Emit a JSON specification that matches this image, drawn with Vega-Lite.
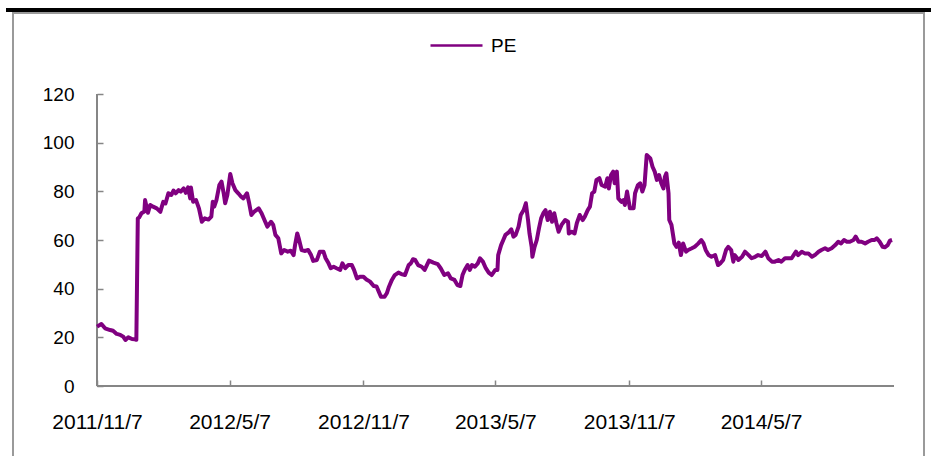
{
  "$schema": "https://vega.github.io/schema/vega-lite/v6.json",
  "width": 911,
  "height": 457,
  "autosize": {"type": "none"},
  "padding": {"left": 13, "top": 13, "right": 7, "bottom": 0},
  "background": "white",
  "config": {
    "view": {"stroke": "#9a9a9a", "strokeWidth": 2},
    "font": "Liberation Sans"
  },
  "data": {
    "values": [
      {"date": "2011-11-07", "pe": 24.4}, {"date": "2011-11-13", "pe": 25.5}, {"date": "2011-11-18", "pe": 23.7}, {"date": "2011-11-25", "pe": 23.0},
      {"date": "2011-11-29", "pe": 22.7}, {"date": "2011-12-04", "pe": 21.4}, {"date": "2011-12-09", "pe": 21.0}, {"date": "2011-12-13", "pe": 20.3},
      {"date": "2011-12-16", "pe": 18.9}, {"date": "2011-12-20", "pe": 20.0}, {"date": "2011-12-25", "pe": 19.3}, {"date": "2011-12-29", "pe": 19.2},
      {"date": "2011-12-31", "pe": 19.0}, {"date": "2012-01-02", "pe": 68.9}, {"date": "2012-01-04", "pe": 69.3}, {"date": "2012-01-07", "pe": 71.0},
      {"date": "2012-01-11", "pe": 71.7}, {"date": "2012-01-12", "pe": 76.4}, {"date": "2012-01-14", "pe": 73.7}, {"date": "2012-01-16", "pe": 71.2},
      {"date": "2012-01-19", "pe": 74.4}, {"date": "2012-01-23", "pe": 73.7}, {"date": "2012-01-28", "pe": 73.0}, {"date": "2012-02-02", "pe": 71.6},
      {"date": "2012-02-04", "pe": 73.7}, {"date": "2012-02-06", "pe": 75.7}, {"date": "2012-02-09", "pe": 75.0}, {"date": "2012-02-13", "pe": 79.2},
      {"date": "2012-02-17", "pe": 78.5}, {"date": "2012-02-20", "pe": 80.3}, {"date": "2012-02-23", "pe": 79.2}, {"date": "2012-02-27", "pe": 80.5},
      {"date": "2012-03-01", "pe": 79.9}, {"date": "2012-03-05", "pe": 81.2}, {"date": "2012-03-08", "pe": 79.4}, {"date": "2012-03-11", "pe": 81.6},
      {"date": "2012-03-14", "pe": 77.1}, {"date": "2012-03-15", "pe": 81.6}, {"date": "2012-03-18", "pe": 75.7}, {"date": "2012-03-22", "pe": 76.4},
      {"date": "2012-03-26", "pe": 73.0}, {"date": "2012-03-30", "pe": 67.5}, {"date": "2012-04-03", "pe": 68.9}, {"date": "2012-04-08", "pe": 68.4},
      {"date": "2012-04-12", "pe": 69.6}, {"date": "2012-04-14", "pe": 75.7}, {"date": "2012-04-16", "pe": 73.7}, {"date": "2012-04-19", "pe": 76.4},
      {"date": "2012-04-23", "pe": 82.6}, {"date": "2012-04-26", "pe": 84.0}, {"date": "2012-04-29", "pe": 79.2}, {"date": "2012-05-01", "pe": 75.1},
      {"date": "2012-05-04", "pe": 78.5}, {"date": "2012-05-08", "pe": 87.1}, {"date": "2012-05-11", "pe": 83.3}, {"date": "2012-05-15", "pe": 80.5},
      {"date": "2012-05-19", "pe": 79.2}, {"date": "2012-05-23", "pe": 77.8}, {"date": "2012-05-26", "pe": 77.1}, {"date": "2012-05-31", "pe": 79.2},
      {"date": "2012-06-03", "pe": 75.1}, {"date": "2012-06-06", "pe": 70.3}, {"date": "2012-06-10", "pe": 71.7}, {"date": "2012-06-16", "pe": 73.0},
      {"date": "2012-06-20", "pe": 71.0}, {"date": "2012-06-25", "pe": 67.5}, {"date": "2012-06-28", "pe": 65.5}, {"date": "2012-07-03", "pe": 67.5},
      {"date": "2012-07-06", "pe": 66.2}, {"date": "2012-07-09", "pe": 62.1}, {"date": "2012-07-13", "pe": 60.7}, {"date": "2012-07-17", "pe": 54.5},
      {"date": "2012-07-21", "pe": 55.9}, {"date": "2012-07-26", "pe": 55.2}, {"date": "2012-07-30", "pe": 55.6}, {"date": "2012-08-03", "pe": 53.8},
      {"date": "2012-08-05", "pe": 57.9}, {"date": "2012-08-08", "pe": 62.7}, {"date": "2012-08-10", "pe": 60.7}, {"date": "2012-08-14", "pe": 55.9},
      {"date": "2012-08-19", "pe": 55.5}, {"date": "2012-08-23", "pe": 55.9}, {"date": "2012-08-27", "pe": 53.8}, {"date": "2012-08-30", "pe": 51.4},
      {"date": "2012-09-04", "pe": 51.8}, {"date": "2012-09-08", "pe": 55.2}, {"date": "2012-09-13", "pe": 55.2}, {"date": "2012-09-16", "pe": 52.5},
      {"date": "2012-09-20", "pe": 50.4}, {"date": "2012-09-23", "pe": 48.4}, {"date": "2012-09-27", "pe": 49.0}, {"date": "2012-10-01", "pe": 48.4},
      {"date": "2012-10-06", "pe": 47.7}, {"date": "2012-10-09", "pe": 50.4}, {"date": "2012-10-13", "pe": 48.4}, {"date": "2012-10-17", "pe": 49.7},
      {"date": "2012-10-22", "pe": 49.7}, {"date": "2012-10-25", "pe": 47.7}, {"date": "2012-10-29", "pe": 44.2}, {"date": "2012-11-02", "pe": 44.9},
      {"date": "2012-11-07", "pe": 44.9}, {"date": "2012-11-11", "pe": 43.8}, {"date": "2012-11-16", "pe": 42.9}, {"date": "2012-11-21", "pe": 41.1},
      {"date": "2012-11-25", "pe": 40.9}, {"date": "2012-11-28", "pe": 38.8}, {"date": "2012-12-01", "pe": 36.7}, {"date": "2012-12-06", "pe": 36.7},
      {"date": "2012-12-09", "pe": 38.1}, {"date": "2012-12-12", "pe": 40.8}, {"date": "2012-12-16", "pe": 43.6}, {"date": "2012-12-20", "pe": 45.6},
      {"date": "2012-12-25", "pe": 46.6}, {"date": "2012-12-29", "pe": 46.0}, {"date": "2013-01-03", "pe": 45.6}, {"date": "2013-01-08", "pe": 49.7},
      {"date": "2013-01-11", "pe": 50.4}, {"date": "2013-01-14", "pe": 52.1}, {"date": "2013-01-17", "pe": 51.8}, {"date": "2013-01-21", "pe": 49.7},
      {"date": "2013-01-26", "pe": 49.0}, {"date": "2013-01-30", "pe": 47.7}, {"date": "2013-02-05", "pe": 51.5}, {"date": "2013-02-11", "pe": 50.7},
      {"date": "2013-02-17", "pe": 50.1}, {"date": "2013-02-21", "pe": 48.4}, {"date": "2013-02-26", "pe": 45.6}, {"date": "2013-03-03", "pe": 46.3},
      {"date": "2013-03-07", "pe": 44.2}, {"date": "2013-03-12", "pe": 43.6}, {"date": "2013-03-16", "pe": 41.5}, {"date": "2013-03-20", "pe": 41.1},
      {"date": "2013-03-23", "pe": 45.6}, {"date": "2013-03-26", "pe": 47.7}, {"date": "2013-03-30", "pe": 49.7}, {"date": "2013-04-02", "pe": 47.7},
      {"date": "2013-04-05", "pe": 49.7}, {"date": "2013-04-09", "pe": 49.0}, {"date": "2013-04-13", "pe": 50.4}, {"date": "2013-04-16", "pe": 52.5},
      {"date": "2013-04-20", "pe": 51.1}, {"date": "2013-04-24", "pe": 48.4}, {"date": "2013-04-28", "pe": 46.6}, {"date": "2013-05-02", "pe": 45.6},
      {"date": "2013-05-07", "pe": 47.7}, {"date": "2013-05-10", "pe": 47.7}, {"date": "2013-05-11", "pe": 53.8}, {"date": "2013-05-15", "pe": 57.9},
      {"date": "2013-05-18", "pe": 60.0}, {"date": "2013-05-21", "pe": 62.1}, {"date": "2013-05-25", "pe": 63.0}, {"date": "2013-05-29", "pe": 64.4},
      {"date": "2013-06-01", "pe": 61.4}, {"date": "2013-06-04", "pe": 62.1}, {"date": "2013-06-08", "pe": 65.5}, {"date": "2013-06-11", "pe": 70.3},
      {"date": "2013-06-15", "pe": 72.3}, {"date": "2013-06-18", "pe": 75.1}, {"date": "2013-06-21", "pe": 68.2}, {"date": "2013-06-23", "pe": 62.7},
      {"date": "2013-06-26", "pe": 57.2}, {"date": "2013-06-27", "pe": 53.1}, {"date": "2013-06-30", "pe": 57.2}, {"date": "2013-07-03", "pe": 60.0},
      {"date": "2013-07-06", "pe": 64.8}, {"date": "2013-07-09", "pe": 68.9}, {"date": "2013-07-12", "pe": 71.0}, {"date": "2013-07-15", "pe": 72.3},
      {"date": "2013-07-18", "pe": 68.2}, {"date": "2013-07-21", "pe": 71.6}, {"date": "2013-07-24", "pe": 67.5}, {"date": "2013-07-27", "pe": 71.0},
      {"date": "2013-07-30", "pe": 66.9}, {"date": "2013-08-02", "pe": 63.4}, {"date": "2013-08-06", "pe": 66.2}, {"date": "2013-08-11", "pe": 68.2},
      {"date": "2013-08-15", "pe": 67.5}, {"date": "2013-08-16", "pe": 62.7}, {"date": "2013-08-20", "pe": 63.4}, {"date": "2013-08-24", "pe": 62.7},
      {"date": "2013-08-27", "pe": 66.9}, {"date": "2013-08-31", "pe": 70.3}, {"date": "2013-09-04", "pe": 68.2}, {"date": "2013-09-07", "pe": 69.6},
      {"date": "2013-09-11", "pe": 72.3}, {"date": "2013-09-14", "pe": 73.7}, {"date": "2013-09-17", "pe": 79.2}, {"date": "2013-09-20", "pe": 79.9},
      {"date": "2013-09-23", "pe": 84.7}, {"date": "2013-09-27", "pe": 85.4}, {"date": "2013-09-30", "pe": 82.6}, {"date": "2013-10-05", "pe": 81.9},
      {"date": "2013-10-08", "pe": 85.4}, {"date": "2013-10-10", "pe": 81.2}, {"date": "2013-10-13", "pe": 86.7}, {"date": "2013-10-16", "pe": 88.1},
      {"date": "2013-10-18", "pe": 83.3}, {"date": "2013-10-21", "pe": 88.1}, {"date": "2013-10-23", "pe": 77.1}, {"date": "2013-10-27", "pe": 75.7},
      {"date": "2013-10-30", "pe": 76.4}, {"date": "2013-11-01", "pe": 74.4}, {"date": "2013-11-04", "pe": 79.9}, {"date": "2013-11-06", "pe": 76.4},
      {"date": "2013-11-08", "pe": 73.0}, {"date": "2013-11-13", "pe": 73.0}, {"date": "2013-11-15", "pe": 79.2}, {"date": "2013-11-19", "pe": 82.6},
      {"date": "2013-11-22", "pe": 83.3}, {"date": "2013-11-25", "pe": 79.9}, {"date": "2013-11-28", "pe": 82.6}, {"date": "2013-12-01", "pe": 94.9},
      {"date": "2013-12-06", "pe": 93.5}, {"date": "2013-12-09", "pe": 90.1}, {"date": "2013-12-12", "pe": 88.1}, {"date": "2013-12-15", "pe": 84.7},
      {"date": "2013-12-18", "pe": 86.7}, {"date": "2013-12-21", "pe": 83.3}, {"date": "2013-12-24", "pe": 81.2}, {"date": "2013-12-26", "pe": 86.0},
      {"date": "2013-12-28", "pe": 87.4}, {"date": "2013-12-31", "pe": 79.2}, {"date": "2014-01-01", "pe": 68.2}, {"date": "2014-01-04", "pe": 66.2},
      {"date": "2014-01-08", "pe": 58.6}, {"date": "2014-01-11", "pe": 57.2}, {"date": "2014-01-14", "pe": 58.9}, {"date": "2014-01-17", "pe": 53.8},
      {"date": "2014-01-20", "pe": 58.6}, {"date": "2014-01-24", "pe": 55.2}, {"date": "2014-01-27", "pe": 55.9}, {"date": "2014-02-01", "pe": 56.6},
      {"date": "2014-02-05", "pe": 57.2}, {"date": "2014-02-10", "pe": 58.6}, {"date": "2014-02-14", "pe": 60.0}, {"date": "2014-02-17", "pe": 58.6},
      {"date": "2014-02-20", "pe": 55.9}, {"date": "2014-02-24", "pe": 53.8}, {"date": "2014-02-28", "pe": 53.1}, {"date": "2014-03-05", "pe": 53.8},
      {"date": "2014-03-09", "pe": 49.7}, {"date": "2014-03-12", "pe": 50.4}, {"date": "2014-03-16", "pe": 51.8}, {"date": "2014-03-20", "pe": 55.9},
      {"date": "2014-03-23", "pe": 57.2}, {"date": "2014-03-27", "pe": 55.9}, {"date": "2014-03-30", "pe": 51.1}, {"date": "2014-04-01", "pe": 53.8},
      {"date": "2014-04-06", "pe": 51.8}, {"date": "2014-04-11", "pe": 53.1}, {"date": "2014-04-15", "pe": 55.2}, {"date": "2014-04-20", "pe": 53.8},
      {"date": "2014-04-24", "pe": 52.5}, {"date": "2014-04-29", "pe": 53.1}, {"date": "2014-05-03", "pe": 53.8}, {"date": "2014-05-08", "pe": 53.4},
      {"date": "2014-05-13", "pe": 55.2}, {"date": "2014-05-17", "pe": 52.5}, {"date": "2014-05-22", "pe": 51.1}, {"date": "2014-05-26", "pe": 51.1},
      {"date": "2014-05-31", "pe": 51.8}, {"date": "2014-06-04", "pe": 51.1}, {"date": "2014-06-09", "pe": 52.5}, {"date": "2014-06-14", "pe": 52.5},
      {"date": "2014-06-18", "pe": 52.5}, {"date": "2014-06-24", "pe": 55.2}, {"date": "2014-06-27", "pe": 53.8}, {"date": "2014-07-02", "pe": 55.2},
      {"date": "2014-07-06", "pe": 54.5}, {"date": "2014-07-11", "pe": 54.5}, {"date": "2014-07-16", "pe": 53.1}, {"date": "2014-07-20", "pe": 53.8},
      {"date": "2014-07-25", "pe": 55.2}, {"date": "2014-07-29", "pe": 55.9}, {"date": "2014-08-03", "pe": 56.6}, {"date": "2014-08-07", "pe": 55.9},
      {"date": "2014-08-12", "pe": 56.6}, {"date": "2014-08-17", "pe": 57.9}, {"date": "2014-08-21", "pe": 59.3}, {"date": "2014-08-25", "pe": 58.6},
      {"date": "2014-08-29", "pe": 60.0}, {"date": "2014-09-02", "pe": 59.3}, {"date": "2014-09-06", "pe": 59.3}, {"date": "2014-09-11", "pe": 60.0},
      {"date": "2014-09-14", "pe": 61.4}, {"date": "2014-09-18", "pe": 59.3}, {"date": "2014-09-22", "pe": 59.3}, {"date": "2014-09-27", "pe": 58.6},
      {"date": "2014-10-01", "pe": 59.3}, {"date": "2014-10-06", "pe": 60.0}, {"date": "2014-10-10", "pe": 60.0}, {"date": "2014-10-13", "pe": 60.7},
      {"date": "2014-10-17", "pe": 59.3}, {"date": "2014-10-21", "pe": 57.2}, {"date": "2014-10-24", "pe": 57.0}, {"date": "2014-10-28", "pe": 57.9},
      {"date": "2014-10-31", "pe": 59.7}, {"date": "2014-11-03", "pe": 60.0}
    ]
  },
  "layer": [
    {
      "mark": {"type": "rule", "color": "#000000", "strokeWidth": 3},
      "encoding": {
        "x": {"datum": {"year": 2011, "month": 7, "date": 6, "utc": true}, "type": "temporal"},
        "x2": {"datum": {"year": 2014, "month": 12, "date": 31, "utc": true}},
        "y": {"datum": 154.6, "type": "quantitative"}
      }
    },
    {
      "mark": {"type": "rule", "color": "#868686", "strokeWidth": 1.5},
      "encoding": {
        "x": {"datum": {"year": 2011, "month": 11, "date": 7, "utc": true}, "type": "temporal"},
        "x2": {"datum": {"year": 2014, "month": 11, "date": 5, "utc": true}},
        "y": {"datum": 0, "type": "quantitative"}
      }
    },
    {
      "mark": {"type": "rule", "color": "#868686", "strokeWidth": 1.5},
      "encoding": {
        "x": {"datum": {"year": 2011, "month": 11, "date": 7, "utc": true}, "type": "temporal"},
        "y": {"datum": 0, "type": "quantitative"},
        "y2": {"datum": 120}
      }
    },
    {
      "mark": {"type": "line", "strokeWidth": 4, "strokeJoin": "round", "interpolate": "linear"},
      "encoding": {
        "x": {
          "field": "date",
          "type": "temporal",
          "scale": {
            "type": "utc",
            "domain": [
              {"year": 2011, "month": 7, "date": 14, "hours": 14, "utc": true},
              {"year": 2014, "month": 12, "date": 16, "hours": 21, "utc": true}
            ],
            "nice": false
          },
          "axis": {
            "orient": "bottom",
            "offset": -84,
            "domain": false,
            "grid": false,
            "title": null,
            "values": [
              {"year": 2011, "month": 11, "date": 7, "utc": true},
              {"year": 2012, "month": 5, "date": 7, "utc": true},
              {"year": 2012, "month": 11, "date": 7, "utc": true},
              {"year": 2013, "month": 5, "date": 7, "utc": true},
              {"year": 2013, "month": 11, "date": 7, "utc": true},
              {"year": 2014, "month": 5, "date": 7, "utc": true}
            ],
            "labelExpr": "utcFormat(datum.value, '%Y/%-m/%-d')",
            "tickSize": -6,
            "tickColor": "#868686",
            "tickWidth": 1.5,
            "labelPadding": 31,
            "labelFontSize": 21,
            "labelColor": "#000000",
            "labelFont": "Liberation Sans",
            "labelFlush": false,
            "labelOverlap": false
          }
        },
        "y": {
          "field": "pe",
          "type": "quantitative",
          "scale": {"domain": [-34.52, 153.29], "nice": false, "zero": false},
          "axis": {
            "orient": "left",
            "offset": -84,
            "domain": false,
            "grid": false,
            "title": null,
            "values": [0, 20, 40, 60, 80, 100, 120],
            "tickSize": -6,
            "tickColor": "#868686",
            "tickWidth": 1.5,
            "labelPadding": 29,
            "labelFontSize": 19,
            "labelColor": "#000000",
            "labelFont": "Liberation Sans",
            "labelFlush": false
          }
        },
        "color": {
          "datum": "PE",
          "type": "nominal",
          "scale": {"range": ["#800080"]},
          "legend": {
            "title": null,
            "orient": "none",
            "legendX": 416,
            "legendY": 5,
            "padding": 0,
            "symbolType": "stroke",
            "symbolSize": 2704,
            "symbolStrokeWidth": 2.5,
            "labelOffset": 7,
            "labelFontSize": 19,
            "labelFont": "Liberation Sans",
            "labelColor": "#000000"
          }
        }
      }
    }
  ]
}
